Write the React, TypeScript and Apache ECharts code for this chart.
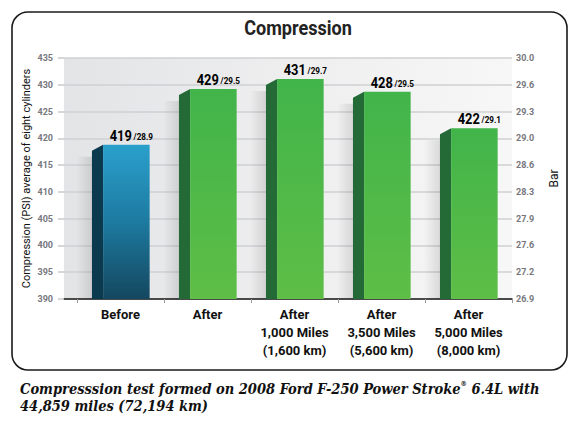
import React, { useEffect, useRef } from "react";
import * as echarts from "echarts";

const categories = [
  "Before",
  "After",
  "After\n1,000 Miles\n(1,600 km)",
  "After\n3,500 Miles\n(5,600 km)",
  "After\n5,000 Miles\n(8,000 km)",
];
const psiValues = [418.8, 429.2, 431.1, 428.7, 421.9];
const psiLabels = ["419", "429", "431", "428", "422"];
const barLabels = ["28.9", "29.5", "29.7", "29.5", "29.1"];
const psiTicks = [390, 395, 400, 405, 410, 415, 420, 425, 430, 435];
const barTicks = ["26.9", "27.2", "27.6", "27.9", "28.3", "28.6", "29.0", "29.3", "29.6", "30.0"];

const NARROW = "Roboto, 'Liberation Sans', sans-serif";
const SERIF = "'DejaVu Serif Condensed', 'DejaVu Serif', serif";
const YMIN = psiTicks[0];
const YMAX = psiTicks[psiTicks.length - 1];

export default function App() {
  const ref = useRef<HTMLDivElement>(null);
  useEffect(() => {
    document.body.style.margin = "0";
    const chart = echarts.init(ref.current!, null, { renderer: "svg" });

    const renderItem = (params: any, api: any) => {
      const i = api.value(0);
      const v = api.value(1);
      const top = api.coord([i, v]);
      const base = api.coord([i, YMIN]);
      const bw = api.size([1, 0])[0];
      const c = top[0];
      const fl = c - bw * 0.2;
      const fr = c + bw * 0.335;
      const sl = c - bw * 0.328;
      const t = top[1];
      const b = base[1];
      const blue = i === 0;
      const frontFill = blue
        ? new echarts.graphic.LinearGradient(0, 0, 0, 1, [
            { offset: 0, color: "#2aa0cc" },
            { offset: 0.5, color: "#1d7aa0" },
            { offset: 1, color: "#14475f" },
          ])
        : new echarts.graphic.LinearGradient(0, 0, 0, 1, [
            { offset: 0, color: "#41b44a" },
            { offset: 1, color: "#5ebe46" },
          ]);
      const sideFill = blue ? "#0b3a4e" : "#236a37";
      const idx = params.dataIndex;
      return {
        type: "group",
        children: [
          {
            type: "rect",
            shape: { x: sl - 16, y: t + 12, width: 16, height: b - t - 12 },
            style: {
              fill: new echarts.graphic.LinearGradient(0, 0, 1, 0, [
                { offset: 0, color: "rgba(0,0,0,0)" },
                { offset: 1, color: "rgba(0,0,0,0.11)" },
              ]),
            },
          },
          {
            type: "polygon",
            shape: {
              points: [
                [sl, t + 6],
                [fl, t],
                [fl, b],
                [sl, b],
              ],
            },
            style: { fill: sideFill },
          },
          {
            type: "rect",
            shape: { x: fl, y: t, width: fr - fl, height: b - t },
            style: { fill: frontFill },
          },
          {
            type: "text",
            x: (fl + fr) / 2 + 5,
            y: t - 2,
            scaleX: 0.86,
            style: {
              x: 0,
              y: 0,
              align: "center",
              verticalAlign: "bottom",
              text: `{a|${psiLabels[idx]}}{b|/${barLabels[idx]}}`,
              rich: {
                a: {
                  fontFamily: NARROW,
                  fontWeight: "bold",
                  fontSize: 15,
                  color: "#1a1a1a",
                  lineHeight: 16,
                  verticalAlign: "bottom",
                },
                b: {
                  fontFamily: NARROW,
                  fontWeight: "bold",
                  fontSize: 9.5,
                  color: "#666",
                  lineHeight: 16,
                  padding: [0, 0, 1, 2],
                  verticalAlign: "bottom",
                },
              },
            },
          },
        ],
      };
    };

    chart.setOption({
      animation: false,
      backgroundColor: "#fff",
      grid: [
        {
          left: 64,
          right: 68,
          top: 58,
          bottom: 126,
          show: true,
          borderWidth: 0,
          backgroundColor: new echarts.graphic.LinearGradient(0, 0, 1, 0, [
            { offset: 0, color: "#e3e4e6" },
            { offset: 0.5, color: "#eeeeef" },
            { offset: 1, color: "#f7f7f7" },
          ]),
        },
        { left: 77, right: 68, top: 58, bottom: 126 },
      ],
      xAxis: [
        {
          gridIndex: 0,
          type: "value",
          min: 0,
          max: 1,
          axisLine: { show: true, lineStyle: { color: "#1a1a1a", width: 1.5 } },
          axisTick: { show: false },
          axisLabel: { show: false },
          splitLine: { show: false },
        },
        {
          gridIndex: 1,
          type: "category",
          data: categories,
          axisLine: { show: false },
          axisTick: { show: true, length: 4, lineStyle: { color: "#999" } },
          axisLabel: {
            interval: 0,
            margin: 6,
            fontFamily: NARROW,
            fontWeight: "bold",
            fontSize: 13,
            lineHeight: 18,
            color: "#111",
          },
        },
      ],
      yAxis: [
        {
          gridIndex: 0,
          type: "value",
          min: YMIN,
          max: YMAX,
          interval: 5,
          name: "Compression (PSI) average of eight cylinders",
          nameLocation: "middle",
          nameGap: 32,
          nameMoveOverlap: false,
          nameTextStyle: { fontFamily: NARROW, fontSize: 11, color: "#111" },
          axisLine: { show: false },
          axisTick: { show: true, length: 6, lineStyle: { color: "#c9cacc", width: 1.5 } },
          axisLabel: { margin: 11, fontFamily: NARROW, fontWeight: "bold", fontSize: 9, color: "#77777d" },
          splitLine: { show: true, lineStyle: { color: "#cfd0d3", width: 1.5 } },
        },
        {
          gridIndex: 0,
          type: "value",
          position: "right",
          min: YMIN,
          max: YMAX,
          interval: 5,
          name: "Bar",
          nameLocation: "middle",
          nameRotate: 90,
          nameGap: 36,
          nameTextStyle: { fontFamily: NARROW, fontSize: 12, color: "#111" },
          axisLine: { show: false },
          axisTick: { show: false },
          axisLabel: {
            margin: 4,
            fontFamily: NARROW,
            fontWeight: "bold",
            fontSize: 9,
            color: "#77777d",
            formatter: (v: number) => barTicks[psiTicks.indexOf(Math.round(v))] ?? "",
          },
          splitLine: { show: false },
        },
        {
          gridIndex: 1,
          type: "value",
          min: YMIN,
          max: YMAX,
          interval: 5,
          show: false,
        },
      ],
      series: [
        {
          type: "custom",
          xAxisIndex: 1,
          yAxisIndex: 2,
          renderItem,
          encode: { x: 0, y: 1 },
          data: psiValues.map((v, i) => [i, v]),
        },
      ],
      graphic: [
        {
          type: "rect",
          shape: { x: 12, y: 12, width: 555, height: 358, r: 16 },
          style: { fill: "none", stroke: "#1a1a1a", lineWidth: 1.6 },
          silent: true,
        },
        {
          type: "text",
          x: 298,
          y: 28,
          scaleX: 0.86,
          style: {
            text: "Compression",
            align: "center",
            verticalAlign: "middle",
            fontFamily: NARROW,
            fontWeight: "bold",
            fontSize: 21,
            fill: "#222",
          },
        },
        {
          type: "text",
          x: 20,
          y: 380,
          style: {
            text: "Compresssion test formed on 2008 Ford F-250 Power Stroke{s|®} 6.4L with\n44,859 miles (72,194 km)",
            fontFamily: SERIF,
            fontStyle: "italic",
            fontWeight: "bold",
            fontSize: 14.5,
            lineHeight: 17,
            fill: "#111",
            rich: {
              s: {
                fontFamily: SERIF,
                fontStyle: "italic",
                fontWeight: "bold",
                fontSize: 7,
                verticalAlign: "top",
                lineHeight: 17,
                padding: [0, 0, 7, 0],
              },
            },
          },
        },
      ],
    });
    return () => chart.dispose();
  }, []);
  return <div ref={ref} style={{ width: 580, height: 425 }} />;
}
